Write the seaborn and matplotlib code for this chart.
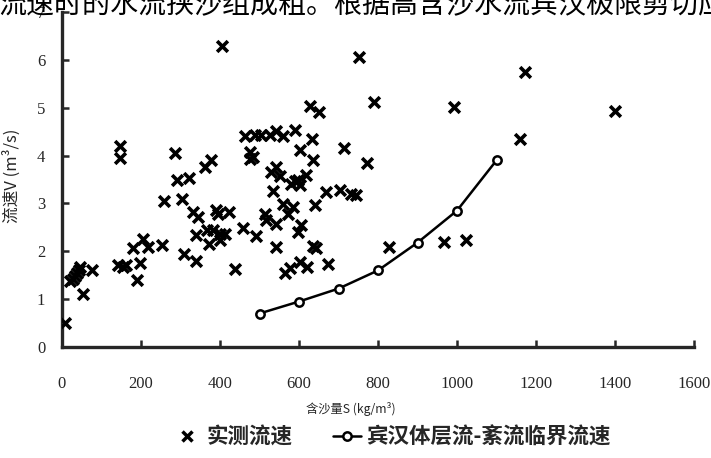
import numpy as np
import pandas as pd
import matplotlib
matplotlib.use('Agg')
import matplotlib.pyplot as plt
import seaborn as sns
from matplotlib.lines import Line2D

# 实测流速 (含沙量 S, 流速 V)
meas_s = [8, 20, 28, 33, 38, 42, 46, 54, 75,
          147, 147, 142, 155, 163, 189, 197, 179, 206, 218, 252,
          258, 287, 292, 321, 303, 309, 339, 332, 345, 340,
          361, 378, 391, 395, 422, 372, 366, 382, 399, 412, 399, 437, 458,
          405, 463, 475, 484, 475, 488, 505, 526, 541, 559, 589, 634, 602, 635,
          713, 773, 753, 627, 650, 791,
          530, 543, 551, 581, 589, 598, 602, 617, 533, 669, 703, 732, 745,
          559, 585, 640, 513, 572, 517, 543, 606, 597, 492, 543, 635, 644,
          564, 576, 602, 619, 673,
          829, 968, 1023, 993, 1172, 1400, 1160]
meas_v = [0.50, 1.38, 1.42, 1.48, 1.55, 1.60, 1.68, 1.10, 1.60,
          4.20, 3.95, 1.71, 1.67, 1.71, 1.41, 1.76, 2.06, 2.26, 2.09, 2.14,
          3.05, 4.06, 3.48, 3.53, 3.10, 1.95, 1.80, 2.82, 2.71, 2.33,
          3.76, 3.90, 2.87, 2.78, 2.82, 2.15, 2.44, 2.44, 2.37, 2.37, 2.24, 1.62, 2.49,
          6.30, 4.40, 4.07, 3.96, 3.93, 4.43, 4.43, 4.44, 4.51, 4.40, 4.54, 4.34, 4.12, 3.90,
          4.15, 3.84, 6.05, 5.04, 4.92, 5.11,
          3.65, 3.76, 3.58, 3.41, 3.46, 3.48, 3.38, 3.60, 3.27, 3.24, 3.28, 3.20, 3.17,
          2.99, 2.92, 2.96, 2.78, 2.78, 2.65, 2.58, 2.54, 2.40, 2.31, 2.09, 2.12, 2.06,
          1.54, 1.66, 1.78, 1.67, 1.74,
          2.09, 2.20, 2.23, 5.01, 5.74, 4.94, 4.35]

# 宾汉体层流-紊流临界流速
crit_s = [500, 600, 700, 800, 900, 1000, 1100]
crit_v = [0.70, 0.95, 1.22, 1.60, 2.18, 2.85, 3.90]

x_ticks = [0, 200, 400, 600, 800, 1000, 1200, 1400, 1600]
y_ticks = [0, 1, 2, 3, 4, 5, 6, 7]

df_meas = pd.DataFrame({'S': meas_s, 'V': meas_v})
df_crit = pd.DataFrame({'S': crit_s, 'V': crit_v})

sns.set_style('ticks')
plt.rcParams['font.family'] = ['Liberation Serif', 'Noto Sans CJK SC', 'DejaVu Sans']
cjk = ['Noto Sans CJK SC', 'DejaVu Sans']

fig = plt.figure(figsize=(7.11, 4.58), dpi=100)
ax = fig.add_axes([62 / 711, 1 - 347 / 458, 632 / 711, 335 / 458])

sns.scatterplot(data=df_meas, x='S', y='V', marker='x', color='black',
                s=60, linewidth=2.6, ax=ax, legend=False, zorder=3)
sns.lineplot(data=df_crit, x='S', y='V', color='black', linewidth=1.8,
             marker='o', markersize=6, markerfacecolor='white',
             markeredgecolor='black', markeredgewidth=1.8, ax=ax, zorder=4)

ax.set_xlim(0, 1600)
ax.set_ylim(0, 7)
ax.set_xticks(x_ticks)
ax.set_yticks(y_ticks)
ax.tick_params(axis='x', direction='in', length=5, width=1.8, pad=21, labelsize=12)
ax.tick_params(axis='y', direction='in', length=5, width=1.8, pad=12, labelsize=12)
for sp in ['top', 'right']:
    ax.spines[sp].set_visible(False)
for sp in ['left', 'bottom']:
    ax.spines[sp].set_linewidth(2.4)

ax.set_xlabel('含沙量S (kg/m³)', fontsize=8.8, family=cjk)
ax.xaxis.set_label_coords((351 - 62) / 632, -(402 - 347) / 335)
ax.set_ylabel('流速V (m³/s)', fontsize=12, family=cjk)
ax.yaxis.set_label_coords(-(62 - 21) / 632, 0.51)

handles = [
    Line2D([], [], marker='x', color='black', linestyle='none',
           markersize=7, markeredgewidth=2.5),
    Line2D([], [], marker='o', color='black', linewidth=1.8, markersize=6,
           markerfacecolor='white', markeredgewidth=1.8),
]
fig.legend(handles, ['实测流速', '宾汉体层流-紊流临界流速'], loc='center',
           bbox_to_anchor=(392 / 711, 1 - 437 / 458), ncol=2, frameon=False,
           prop={'family': cjk, 'weight': 'bold', 'size': 15.5},
           handlelength=1.3, handletextpad=0.25, columnspacing=1.9)

# 上方截断的正文文字
fig.text(-1 / 711, 1 - 13 / 458, '流速时的水流挟沙组成粗。根据高含沙水流宾汉极限剪切应力',
         fontsize=20.2, family=cjk, color='black', va='baseline', ha='left')

fig.savefig('out.png', dpi=100)
